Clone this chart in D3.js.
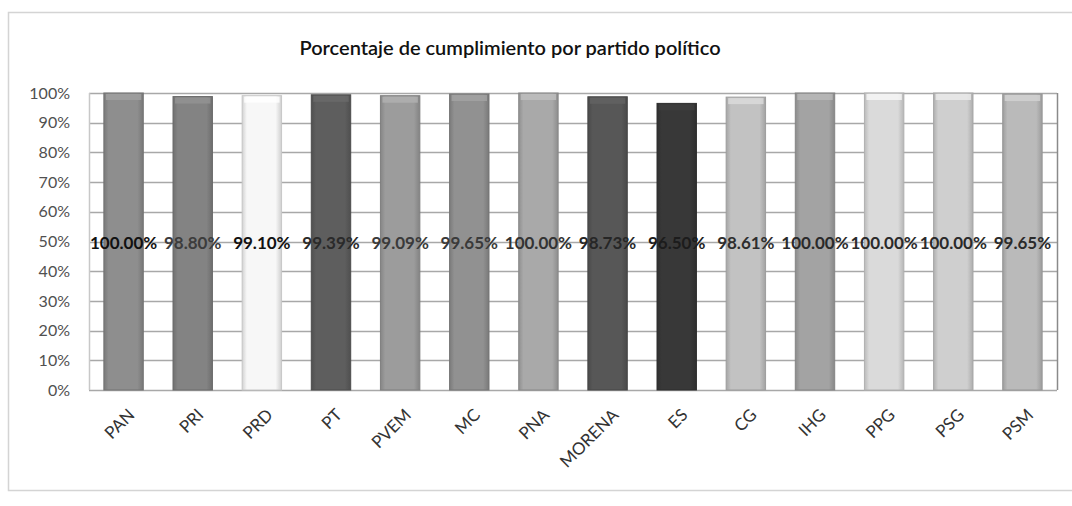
<!DOCTYPE html>
<html><head><meta charset="utf-8">
<script src="https://cdn.jsdelivr.net/npm/d3@7"></script>
<style>
html,body{margin:0;padding:0;background:#fff;}
svg{display:block;}
text{font-family:Lato,"Open Sans",sans-serif;}
</style></head>
<body>
<svg id="chart" width="1072" height="506"></svg>
<script>
const title = "Porcentaje de cumplimiento por partido político";
const categories = ["PAN","PRI","PRD","PT","PVEM","MC","PNA","MORENA","ES","CG","IHG","PPG","PSG","PSM"];
const values = [100.00, 98.80, 99.10, 99.39, 99.09, 99.65, 100.00, 98.73, 96.50, 98.61, 100.00, 100.00, 100.00, 99.65];
const barColors = ["#8e8e8e","#838383","#f7f7f7","#5e5e5e","#9c9c9c","#919191","#a9a9a9","#575757","#383838","#c2c2c2","#a3a3a3","#dadada","#cfcfcf","#bababa"];
const labelColors = ["#111","#3c3c3c","#111","#2a2a2a","#3a3a3a","#3a3a3a","#333","#262626","#1c1c1c","#2e2e2e","#2a2a2a","#2a2a2a","#2a2a2a","#2a2a2a"];
const yTicks = [0,10,20,30,40,50,60,70,80,90,100];

const svg = d3.select("#chart");
const m = {left: 89, right: 1057, top: 93, bottom: 390};

// outer chart border
svg.append("rect").attr("x",8.5).attr("y",12.5).attr("width",1080).attr("height",478)
  .attr("fill","none").attr("stroke","#d4d4d4").attr("stroke-width",1.5);

const x = d3.scaleBand().domain(categories).range([m.left, m.right]).paddingInner(0.43).paddingOuter(0.215);
const y = d3.scaleLinear().domain([0,100]).range([m.bottom, m.top]);

const defs = svg.append("defs");
barColors.forEach((c,i)=>{
  const g = defs.append("linearGradient").attr("id","g"+i).attr("x1","0").attr("x2","1").attr("y1","0").attr("y2","0");
  const base = d3.color(c);
  g.append("stop").attr("offset","0%").attr("stop-color", base.darker(0.45));
  g.append("stop").attr("offset","12%").attr("stop-color", base);
  g.append("stop").attr("offset","85%").attr("stop-color", base);
  g.append("stop").attr("offset","100%").attr("stop-color", base.darker(0.5));
});

// gridlines
svg.append("g").selectAll("line").data(yTicks).join("line")
  .attr("x1",m.left).attr("x2",m.right)
  .attr("y1",d=>Math.round(y(d))+0.5).attr("y2",d=>Math.round(y(d))+0.5)
  .attr("stroke","#a8a8a8").attr("stroke-width",1.7);
svg.append("line").attr("x1",m.left+0.5).attr("x2",m.left+0.5).attr("y1",m.top).attr("y2",m.bottom).attr("stroke","#c8c8c8").attr("stroke-width",1.5);
svg.append("line").attr("x1",m.right+0.5).attr("x2",m.right+0.5).attr("y1",m.top).attr("y2",m.bottom).attr("stroke","#8a8a8a").attr("stroke-width",1.5);

// y axis labels
const yAxis = d3.axisLeft(y).tickValues(yTicks).tickFormat(d=>d+"%").tickSize(0).tickPadding(19);
const ya = svg.append("g").attr("transform",`translate(${m.left},0)`).call(yAxis);
ya.select(".domain").remove();
ya.selectAll("text").attr("font-size",16).attr("fill","#505050").style("font-family","Lato, sans-serif");

// bars
const bars = svg.append("g").selectAll("g.bar").data(categories).join("g").attr("class","bar");
bars.append("rect")
  .attr("x",d=>x(d)).attr("width",x.bandwidth())
  .attr("y",(d,i)=>y(values[i])).attr("height",(d,i)=>y(0)-y(values[i]))
  .attr("fill",(d,i)=>`url(#g${i})`)
  .attr("stroke",(d,i)=>d3.color(barColors[i]).darker(0.6)).attr("stroke-width",1);
bars.append("rect")
  .attr("x",d=>x(d)+2).attr("width",x.bandwidth()-4)
  .attr("y",(d,i)=>y(values[i])+1).attr("height",6)
  .attr("fill",(d,i)=>d3.color(barColors[i]).brighter(0.35)).attr("opacity",0.8);

// data labels
svg.append("g").selectAll("text").data(categories).join("text")
  .attr("x",d=>x(d)+x.bandwidth()/2).attr("y",y(50)+7)
  .attr("text-anchor","middle").attr("font-size",17).attr("font-weight","bold")
  .attr("fill",(d,i)=>labelColors[i])
  .text((d,i)=>values[i].toFixed(2)+"%");

// x axis labels
const xAxis = d3.axisBottom(x).tickSize(0).tickPadding(0);
const xa = svg.append("g").attr("transform",`translate(0,${m.bottom})`).call(xAxis);
xa.select(".domain").remove();
xa.selectAll("text")
  .attr("font-size",17).attr("fill","#333").style("font-family","Lato, sans-serif")
  .attr("text-anchor","end").attr("dy",0).attr("y",0)
  .attr("transform","translate(12,26) rotate(-45)");

// title
svg.append("text").attr("x",510).attr("y",55).attr("text-anchor","middle")
  .attr("font-size",20).attr("font-weight","600").attr("fill","#111").text(title);
</script>
</body></html>
